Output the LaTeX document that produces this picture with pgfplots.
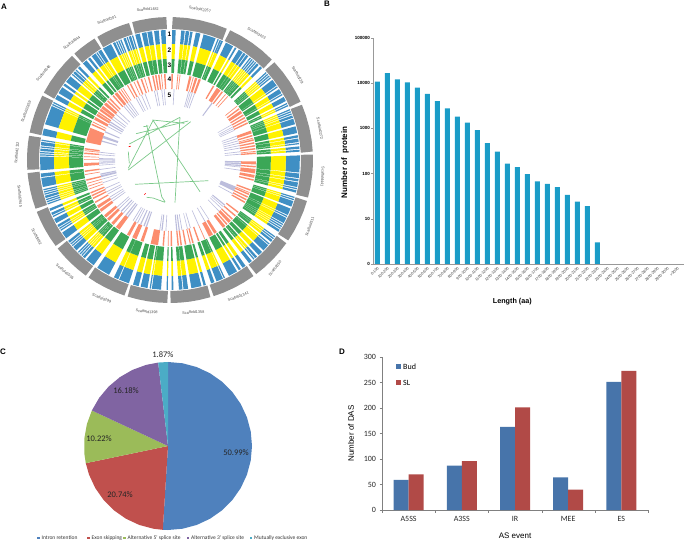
\documentclass[border=0pt]{standalone}
\usepackage{pgfplots}
\pgfplotsset{compat=1.18}
\usepgfplotslibrary{polar}
\usepackage{fontspec}
\setmainfont{Liberation Sans}
\newfontfamily\carlito{Carlito}
\definecolor{cblue}{HTML}{3F8FC4}
\definecolor{cyel}{HTML}{FFF200}
\definecolor{cgrn}{HTML}{3BA757}
\definecolor{cred}{HTML}{FC8D6E}
\definecolor{clav}{HTML}{BCBDDC}
\definecolor{cgray}{HTML}{8F8F8F}
\definecolor{barb}{HTML}{1A9CC7}
\definecolor{pblue}{HTML}{4F81BD}
\definecolor{pred}{HTML}{C0504D}
\definecolor{pgrn}{HTML}{9BBB59}
\definecolor{ppur}{HTML}{8064A2}
\definecolor{ptea}{HTML}{4BACC6}
\definecolor{ribb}{HTML}{7CC98A}
% bands of the circular tracks, in degrees clockwise from the top
\def\geneBands{1/2.5,5/6.5,7/8.5,9/10,11.5/13.5,15/20.5,21.5/22,22.5/23,23.3/24,
25.5/29,30/30.7,32/34,34.5/35.5,36/37,38/38.5,39/39.5,40/40.5,41/41.5,42/43,44/45,
47.5/48,48.5/49,49.5/50,50.5/51,52/55,55.5/56,57/59,59.5/60,61/63,64/64.5,65/65.5,
67/67.5,68/68.5,69/69.5,70/71,71.5/74,75/78,79/80,80.5/82,82.5/83,84/85,85.5/86.3,
88/95.5,96/98,98.5/99.5,100/102,102.5/103,103.5/104.5,
106.5/107,107.5/108,108.5/111,112/115,115.5/116,116.5/119,119.5/120,120.5/121,121.5/122,122.5/123.5,
126/126.5,127/127.5,128/129,130/130.5,131/134,135/137,138/139,139.5/140,141/142.5,
144.5/146,147/148,149/153,155/155.5,156/159,160/161.5,
164/165,166/170.5,172/174,174.5/176,178.5/179.2,
181/181.5,184/188,188.5/189,190/193,194/196.5,
198.5/203,203.5/205.5,208/214,
216/220,221/222,222.5/223,223.5/224,224.5/225,226/228,228.5/229,229.5/230,230.5/231.5,
233/236,237/237.5,238/238.5,239/240,241/243,244/244.5,245/246,247/248,
250/250.5,251/251.5,252/252.5,253/254,254.5/255,255.5/256,256.5/257,258/262,262.5/264,
265.5/271.5,272/272.5,273/273.5,274/275,275.5/276,276.5/278,278.5/279,
281/284,286/294.5,295/295.5,296/296.5,
298/300,301/304,305/306,307/310,311/311.5,312/313,313.5/314,315/316,
318/320,321/322,323/325,325.5/326,326.5/328,
329/333,334/335,335.5/336,336.5/337,337.5/338,339/340,340.5/341,341.5/342.5,343/343.5,
344.5/346.5,347.5/349.5,350/352,353/355,356/358}
\def\redBands{1/2,5/5.6,6.5/7,13/14.5,15.5/16,17/18.5,19.5/21,
30/31,33/36,37/38,40/40.5,42/42.5,
51/51.5,53/54,55/57,58/59,60/61,62/63,64/65,
70/72,73/74,75/75.5,76/77,78/79,80/81,82/83,84/84.5,85/86,
91/93,94/95,96/99,100/102,103/104,
110/111,112/112.5,113/114,115/116,117/118,119/120,
127/128,130/131,133/134,135/137,138/139,140/142,
147/149,150/153,156/156.5,160/161,
164/165,166/166.7,169/170,172/173,174/175,178.5/179.5,
181/181.5,184/185,188/193,
198/200,203/206,208/210,
216/219,221/223,225/227,228/230,
233/235,236/238,240/241,243/244,245/246,247/248,
250/250.5,252/252.5,254/254.5,256/257,260/260.5,262/263,
266/268,270/270.5,272/272.5,274/275,276/276.5,277/278,
282/292,294/295,296/296.5,
298/300,301/302.5,303/304,305/306.5,307/309,310/312,313/314,315/316,
318/319,320/322,323/324,325/325.5,326.5/327,
330/330.7,332/333,335/335.5,337/338,340/341,342.5/343,
345/346,348/349,350/351,352/353,354/354.5,356/357}
\def\lavBands{3/3.6,15/15.6,16.5/17,18/18.6,20/20.6,
36/37,
60/60.5,62/62.5,63.5/64,65/65.5,
70/70.6,72/72.6,74/74.6,76/76.6,78/78.6,80/80.6,83/83.6,85/85.6,
91/92,92.5/93.5,94/95,95.5/96,98/98.6,
112/116,118/118.6,
129/130,131/131.5,133/133.5,136/136.5,
146.5/147,150/150.6,156/156.6,
163/163.6,165.5/166,170/170.6,172/173,174/175,
183/183.6,186/187,188/188.6,
199/200,201/202,204/205,207/207.6,209/209.6,211/211.6,
216/217,218/219,221/221.6,223/224,226/226.6,228/228.6,
234/234.6,236/236.6,238/238.6,241/241.6,243/243.6,246/246.6,
251/251.5,254/254.5,256/257.5,258/259,262/262.6,
265.5/266,267/267.5,268/268.5,269/269.5,270/270.5,271/271.5,274/274.6,276/276.6,
285/286,288/290,293/294,
298/298.6,300/301,302/303,305/305.6,307/307.6,310/310.6,313/313.6,
319/319.6,321/321.6,323/323.6,325/325.6,
331/331.6,333/333.6,336/336.6,339/339.6,
347/347.6,349/349.6,353/353.6,355/355.6}
% #5: degrees by which each band is widened on both sides
\newcommand\trackplot[5]{%
  \gdef\tmplist{}%
  \foreach \a/\b in #4{%
    \pgfmathsetmacro\aa{\a-#5}\pgfmathsetmacro\bb{\b+#5}%
    \xdef\tmplist{\tmplist (\aa,#2)(\aa,#3)(\bb,#3)(\bb,#2)(\aa,#2)(nan,nan)}}%
  \edef\temp{\noexpand\addplot[fill=#1,draw=none,unbounded coords=jump] coordinates {\tmplist};}%
  \temp}
\newcommand\slab[4]{\node[rotate=#3,font=\fontsize{3.8}{4}\selectfont,text=black!70,inner sep=0pt] at (#1pt,#2pt) {#4};}
\begin{document}
\begin{tikzpicture}[x=1pt,y=1pt]
\useasboundingbox (0,0) rectangle (685,541);
% ---------- A
\begin{polaraxis}[at={(170pt,381pt)},anchor=center,scale only axis,width=286pt,height=286pt,
  hide axis,clip=false,xmin=-270,xmax=90,ymin=0,ymax=143,x filter/.expression={90-x}]
\addplot[cgray,line width=12pt,line cap=butt,unbounded coords=jump] coordinates {
(1,137)(6.5,137)(12,137)(18,137)(23.5,137)(nan,nan)
(24.8,137)(30,137)(35,137)(40,137)(45.5,137)(nan,nan)
(46.8,137)(52,137)(57,137)(62,137)(66,137)(nan,nan)
(67.2,137)(72,137)(77,137)(82,137)(86.7,137)(nan,nan)
(87.8,137)(92,137)(96,137)(101,137)(105.3,137)(nan,nan)
(106.6,137)(111,137)(115,137)(120,137)(124.3,137)(nan,nan)
(125.5,137)(130,137)(134,137)(139,137)(143,137)(nan,nan)
(144.2,137)(149,137)(153,137)(158,137)(162.3,137)(nan,nan)
(163.5,137)(168,137)(172,137)(176,137)(179.8,137)(nan,nan)
(181,137)(185,137)(189,137)(193,137)(197.3,137)(nan,nan)
(198.5,137)(203,137)(207,137)(211,137)(214.8,137)(nan,nan)
(216,137)(220,137)(224,137)(228,137)(231.8,137)(nan,nan)
(233,137)(237,137)(241,137)(245,137)(248.8,137)(nan,nan)
(250,137)(254,137)(258,137)(262,137)(264.8,137)(nan,nan)
(266,137)(270,137)(274,137)(277,137)(279.8,137)(nan,nan)
(281,137)(285,137)(289,137)(293,137)(296.8,137)(nan,nan)
(298,137)(303,137)(308,137)(313,137)(316.8,137)(nan,nan)
(318,137)(321,137)(325,137)(328.2,137)(nan,nan)
(329.4,137)(333,137)(337,137)(340,137)(343.4,137)(nan,nan)
(344.6,137)(348,137)(352,137)(355,137)(358.6,137)};
\trackplot{cblue}{116}{130}{\geneBands}{0.03}
\trackplot{cyel}{101}{116}{\geneBands}{0.07}
\trackplot{cgrn}{87}{101}{\geneBands}{0.1}
\trackplot{cred}{71}{86}{\redBands}{0}
\trackplot{clav}{55}{71}{\lavBands}{0}
\end{polaraxis}
% ribbons, in image pixels
\begin{axis}[at={(0pt,0pt)},anchor=south west,scale only axis,width=685pt,height=541pt,hide axis,
  xmin=0,xmax=685,ymin=0,ymax=541,y dir=reverse,clip=false]
\addplot[ribb,line width=0.7pt,unbounded coords=jump] coordinates {
(129.3,144)(180,117.3)(nan,nan)
(136,133.7)(188.3,121)(nan,nan)
(128.3,170)(190.7,121.7)(nan,nan)
(153.3,120)(128.3,168.3)(nan,nan)
(146.7,125)(161.7,196.7)(165,201.7)(nan,nan)
(180,117.3)(175,202.7)(nan,nan)
(153.3,120.7)(200,191.7)(nan,nan)
(135,184.3)(208.3,180.7)(nan,nan)
(152.3,120)(184.3,123.3)(nan,nan)
(128.3,151.7)(129.3,163.3)(nan,nan)
(146.7,197.3)(153,198)(165,202.3)(nan,nan)
(143.3,126.7)(148.3,126)};
\addplot[red,line width=0.7pt,unbounded coords=jump] coordinates {(128.7,146.7)(130.7,146.3)(nan,nan)(144.3,194.7)(145.7,193.3)};
\end{axis}
\foreach \n/\yy in {1/34.3,2/50.7,3/65,4/79,5/95}{\node[font=\bfseries\fontsize{6.5}{7}\selectfont,inner sep=0pt] at (169.5,541-\yy) {\n};}
\slab{200}{531.7}{-10}{Scaffold2257}
\slab{256.7}{507.7}{-28}{Scaffold423}
\slab{297.7}{466}{-60}{Scaffold229}
\slab{320}{412.7}{-80}{Scaffold2272}
\slab{322.7}{364.3}{-93}{Scaffold441}
\slab{309.7}{314.3}{70}{Scaffold511}
\slab{275}{272.7}{50}{Scaffold50}
\slab{238.3}{244.3}{20}{Scaffold1341}
\slab{193.3}{228.7}{4}{Scaffold1358}
\slab{146.7}{229.3}{-6}{Scaffold1398}
\slab{101.7}{242.7}{-22}{Scaffold299}
\slab{65}{269.3}{-40}{Scaffold1505}
\slab{36.7}{304.3}{-62}{Scaffold82}
\slab{20}{345}{-85}{Scaffold2945}
\slab{16.7}{388.3}{85}{Scaffold2112}
\slab{26}{429.3}{68}{Scaffold2859}
\slab{43.3}{467.7}{50}{Scaffold348}
\slab{71.7}{498.3}{35}{Scaffold844}
\slab{106.7}{521}{20}{Scaffold201}
\slab{147.7}{531.7}{4}{Scaffold1482}
% panel letters
\node[font=\bfseries\fontsize{8}{8}\selectfont,inner sep=0pt] at (4,534) {A};
\node[font=\bfseries\fontsize{8}{8}\selectfont,inner sep=0pt] at (327,537) {B};
\node[font=\bfseries\fontsize{8}{8}\selectfont,inner sep=0pt] at (3,189) {C};
\node[font=\bfseries\fontsize{8}{8}\selectfont,inner sep=0pt] at (342,189) {D};
% ---------- B
\begin{axis}[at={(373pt,277pt)},anchor=south west,scale only axis,width=311pt,height=226pt,
  ymode=log,log origin=infty,ybar,bar width=5pt,ymin=1,ymax=100000,xmin=-0.43,xmax=30.67,
  axis x line*=bottom,axis y line*=left,axis line style={black!40,-},
  ytick={1,10,100,1000,10000,100000},yticklabels={0,10,100,1000,10000,100000},
  yminorticks=false,
  xtick={0,...,30},
  xticklabels={0-100,100-200,200-300,300-400,400-500,500-600,600-700,700-800,800-900,900-1000,1000-1100,1100-1200,1200-1300,1300-1400,1400-1500,1500-1600,1600-1700,1700-1800,1800-1900,1900-2000,2000-2100,2100-2200,2200-2300,2300-2400,2400-2500,2500-2600,2600-2700,2700-2800,2800-2900,2900-3000,>3000},
  x tick label style={rotate=45,anchor=north east,font=\fontsize{3.8}{4}\selectfont,inner sep=0.5pt,text=black!80},
  y tick label style={font=\bfseries\fontsize{4.5}{5}\selectfont,inner sep=1pt},
  major x tick style={draw=none},y tick style={black!40},tick align=outside,major tick length=2pt,
  xlabel={\bfseries Length (aa)},xlabel style={font=\fontsize{7.2}{8}\selectfont,at={(axis description cs:0.448,-0.15)},anchor=north,inner sep=0pt},
  ylabel={\bfseries Number of\ \ protein},ylabel style={font=\fontsize{8}{9}\selectfont,at={(axis description cs:-0.074,0.45)},anchor=south,inner sep=1pt}]
\addplot[fill=barb,draw=none] coordinates {
(0,10850)(1,16600)(2,12200)(3,10480)(4,8000)(5,5800)(6,3990)(7,2790)(8,1830)(9,1350)
(10,912)(11,471)(12,308)(13,167)(14,139)(15,97)(16,67)(17,59.5)(18,50)(19,34)
(20,24)(21,19)(22,3)};
\end{axis}
% ---------- C
\begin{polaraxis}[at={(168pt,95pt)},anchor=center,scale only axis,width=168pt,height=168pt,
  hide axis,clip=false,xmin=-270,xmax=90,ymin=0,ymax=84,x filter/.expression={90-x}]
\addplot[fill=pblue,draw=none] coordinates {(0,0)(0,84)(10,84)(20,84)(30,84)(40,84)(50,84)(60,84)(70,84)(80,84)(90,84)(100,84)(110,84)(120,84)(130,84)(140,84)(150,84)(160,84)(170,84)(180,84)(183.56,84)(0,0)};
\addplot[fill=pred,draw=none] coordinates {(0,0)(183.56,84)(190,84)(200,84)(210,84)(220,84)(230,84)(240,84)(250,84)(258.2,84)(0,0)};
\addplot[fill=pgrn,draw=none] coordinates {(0,0)(258.2,84)(265,84)(275,84)(285,84)(295,84)(0,0)};
\addplot[fill=ppur,draw=none] coordinates {(0,0)(295,84)(305,84)(315,84)(325,84)(335,84)(345,84)(353.27,84)(0,0)};
\addplot[fill=ptea,draw=none] coordinates {(0,0)(353.27,84)(360,84)(0,0)};
\end{polaraxis}
\begin{scope}[every node/.style={font=\carlito\fontsize{8.5}{9}\selectfont,inner sep=0pt,text=black!85}]
\node at (236,88) {50.99\%};
\node at (120,46) {20.74\%};
\node at (99,102) {10.22\%};
\node at (126,150) {16.18\%};
\node at (163,186) {1.87\%};
\end{scope}
\begin{scope}[every node/.style={font=\carlito\fontsize{5.5}{6}\selectfont,inner sep=0pt,anchor=west,text=black!80}]
\fill[pblue] (37,2) rectangle +(2.5,2.5); \node at (41.5,3.2) {Intron retention};
\fill[pred] (87,2) rectangle +(2.5,2.5); \node at (91.5,3.2) {Exon skipping};
\fill[pgrn] (123,2) rectangle +(2.5,2.5); \node at (127.5,3.2) {Alternative 5' splice site};
\fill[ppur] (186.5,2) rectangle +(2.5,2.5); \node at (191,3.2) {Alternative 3' splice site};
\fill[ptea] (249.5,2) rectangle +(2.5,2.5); \node at (254,3.2) {Mutually exclusive exon};
\end{scope}
% ---------- D
\begin{axis}[at={(382pt,31pt)},anchor=south west,scale only axis,width=266pt,height=153pt,
  ybar=0pt,bar width=15pt,xmin=-0.5,xmax=4.5,ymin=0,ymax=300,
  axis x line*=bottom,axis y line*=left,axis line style={black!50,-},
  ytick={0,50,100,150,200,250,300},yticklabels={0,50,100,150,200,250,300},
  xtick={0,1,2,3,4},xticklabels={A5SS,A3SS,IR,MEE,ES},
  minor xtick={-0.5,0.5,1.5,2.5,3.5,4.5},major x tick style={draw=none},
  minor x tick style={black!50},y tick style={black!50},
  tick align=outside,major tick length=2.5pt,minor tick length=2.5pt,
  tick label style={font=\carlito\fontsize{8}{9}\selectfont,text=black!85},
  xlabel={AS event},xlabel style={font=\fontsize{8}{9}\selectfont,at={(axis description cs:0.5,-0.15)},anchor=north,inner sep=0pt},
  ylabel={Number of DAS},ylabel style={font=\fontsize{8}{9}\selectfont,at={(axis description cs:-0.101,0.5)},anchor=south,inner sep=1pt}]
\addplot[fill=pblue!90!black,draw=none] coordinates {(0,59)(1,87)(2,163)(3,64)(4,251)};
\addplot[fill=pred!92!black,draw=none] coordinates {(0,70)(1,96)(2,201)(3,40)(4,273)};
\end{axis}
\fill[pblue!90!black] (396,172) rectangle +(5,5); \node[font=\carlito\fontsize{8}{9}\selectfont,anchor=west,inner sep=0pt] at (403,174.5) {Bud};
\fill[pred!92!black] (396,156) rectangle +(5,5); \node[font=\carlito\fontsize{8}{9}\selectfont,anchor=west,inner sep=0pt] at (403,158.5) {SL};
\end{tikzpicture}
\end{document}
